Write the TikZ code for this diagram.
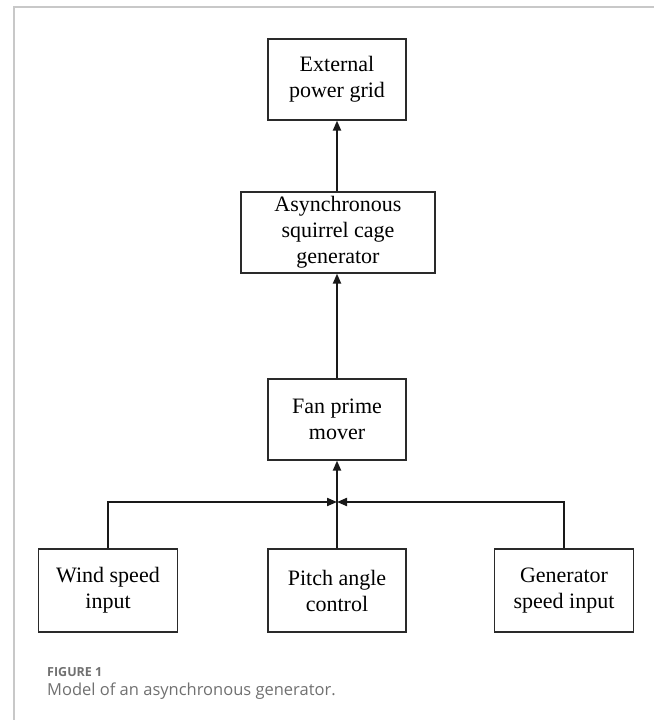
\documentclass[tikz,border=0pt]{standalone}
\usepackage{fontspec}
\setmainfont{Liberation Serif}
\newfontfamily\capfont{Open Sans}
\usetikzlibrary{arrows.meta}
\definecolor{framegray}{HTML}{C8C8C8}
\definecolor{capgray}{HTML}{707070}
\definecolor{boxline}{HTML}{2A2A2A}
\begin{document}
\begin{tikzpicture}[x={(1pt,0)},y={(0,-1pt)},
  blockbox/.style={draw=boxline,line width=1.2pt,inner sep=0pt,align=center,
    font=\fontsize{22}{26}\selectfont,text=black},
  arr/.style={line width=2pt,draw=black!90,-{Triangle[length=10pt,width=8pt]}},
  capline/.style={anchor=west,inner sep=0pt,text=capgray}]
\useasboundingbox (0,0) rectangle (654,720);
% frame
\draw[framegray,line width=1.5pt] (14,720) -- (14,7) -- (654,7);
% blocks
\node[blockbox,minimum width=138pt,minimum height=81pt] (ext) at (337,79.5) {External\\power grid};
\node[blockbox,minimum width=194pt,minimum height=81pt] (asg) at (338,232.5) {Asynchronous\\squirrel cage\\generator};
\node[blockbox,minimum width=138pt,minimum height=81pt] (fan) at (337,419.5) {Fan prime\\mover};
\node[blockbox,minimum width=139pt,minimum height=83pt] (wind) at (108,590.5) {Wind speed\\input};
\node[blockbox,minimum width=138pt,minimum height=83pt] (pitch) at (337,590.5) {Pitch angle\\control};
\node[blockbox,minimum width=139pt,minimum height=83pt] (gen) at (564,590.5) {Generator\\speed input};
\coordinate (j) at (337,502);
% connectors
\draw[arr] (asg.north -| ext.south) -- (ext.south);
\draw[arr] (fan.north) -- (fan.north |- asg.south);
\draw[arr] (pitch.north) -- (fan.south);
\draw[arr] (wind.north) |- (j);
\draw[arr] (gen.north) |- (j);
% caption
\node[capline,font=\capfont\bfseries\fontsize{12.5}{15}\selectfont] (fig) at (47,672) {FIGURE 1};
\node[capline,font=\capfont\fontsize{16.5}{20}\selectfont] (cap) at (47,691) {Model of an asynchronous generator.};
\end{tikzpicture}
\end{document}
